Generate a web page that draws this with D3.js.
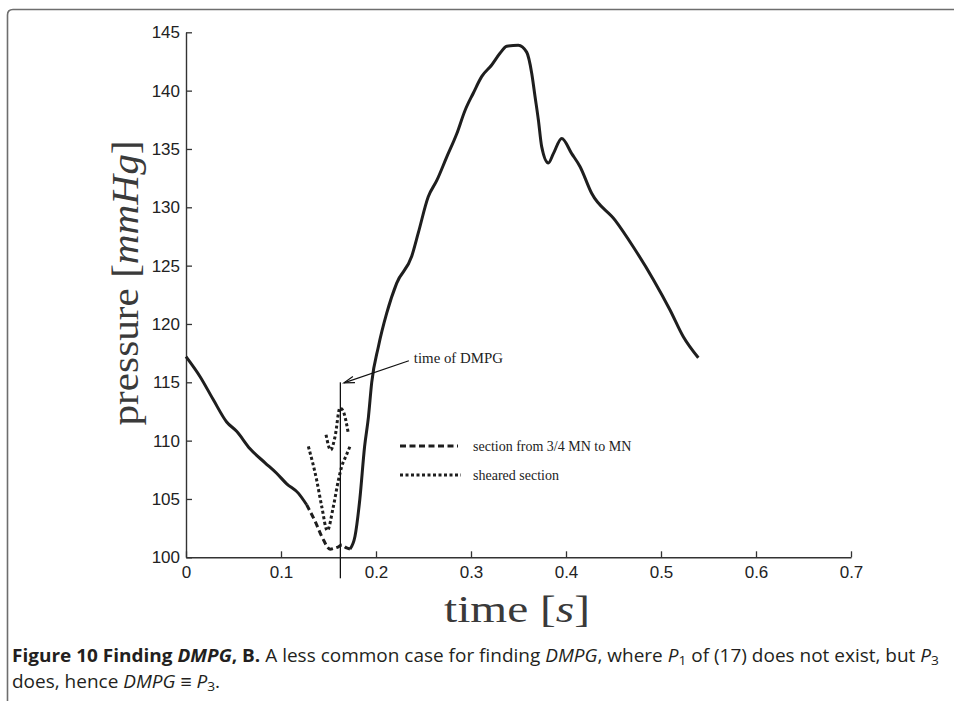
<!DOCTYPE html>
<html>
<head>
<meta charset="utf-8">
<script src="https://cdn.jsdelivr.net/npm/d3@7"></script>
<style>
  html, body { margin: 0; padding: 0; background: #fff; }
  svg { display: block; }
</style>
</head>
<body>
<svg id="chart" width="954" height="701"></svg>
<script>
// Axis ticks
const xTicks = [0, 0.1, 0.2, 0.3, 0.4, 0.5, 0.6, 0.7];
const xTickLabels = ["0", "0.1", "0.2", "0.3", "0.4", "0.5", "0.6", "0.7"];
const yTicks = [100, 105, 110, 115, 120, 125, 130, 135, 140, 145];
const yTickLabels = ["100", "105", "110", "115", "120", "125", "130", "135", "140", "145"];

// Pressure trace [time s, pressure mmHg], before the 3/4 MN point
const traceBefore = [
  [0.000, 117.2], [0.0147, 115.5], [0.0288, 113.5], [0.0428, 111.6],
  [0.0533, 110.8], [0.0674, 109.3], [0.0832, 108.1], [0.0954, 107.2],
  [0.106, 106.3], [0.1182, 105.5], [0.127, 104.5]
];
// Section from 3/4 MN to MN
const sectionTrace = [
  [0.127, 104.5], [0.1358, 103.1], [0.1446, 101.5], [0.1516, 100.7],
  [0.157, 100.8], [0.1604, 100.9], [0.164, 101.05], [0.1691, 100.8],
  [0.1726, 100.7]
];
// Pressure trace after MN
const traceAfter = [
  [0.1726, 100.7], [0.1779, 101.8], [0.183, 105.0], [0.188, 109.5],
  [0.192, 112.0], [0.1955, 115.0], [0.2025, 118.05], [0.2112, 120.9],
  [0.2218, 123.5], [0.2376, 125.8], [0.2445, 127.8], [0.255, 130.9],
  [0.264, 132.3], [0.2744, 134.3], [0.285, 136.3], [0.2937, 138.3],
  [0.3025, 139.8], [0.3112, 141.2], [0.3218, 142.2], [0.3305, 143.2],
  [0.3376, 143.8], [0.3498, 143.9], [0.3586, 143.3], [0.3639, 141.5],
  [0.3674, 139.5], [0.3709, 137.5], [0.3744, 135.2], [0.3814, 133.8],
  [0.3867, 134.6], [0.3955, 135.9], [0.406, 134.6], [0.4147, 133.5],
  [0.427, 131.2], [0.4516, 128.9], [0.4709, 126.6], [0.492, 123.8],
  [0.5095, 121.2], [0.5235, 118.9], [0.5393, 117.1]
];
// Sheared section, two pieces
const shearedA = [
  [0.1288, 109.5], [0.1376, 106.6], [0.143, 104.3], [0.1487, 102.3],
  [0.155, 104.3], [0.1604, 106.6], [0.164, 107.8], [0.169, 108.8],
  [0.1726, 109.5]
];
const shearedB = [
  [0.1474, 110.5], [0.1523, 109.2], [0.1568, 110.3], [0.1621, 112.8],
  [0.1656, 112.5], [0.1709, 110.6]
];

// DMPG marker
const dmpgTime = 0.1625;
const dmpgRange = [115, 98.2];
const arrowFrom = [0.2346, 116.85];
const arrowTo = [0.1663, 114.95];

const legendLabels = ["section from 3/4 MN to MN", "sheared section"];

const svg = d3.select("#chart");
svg.append("rect").attr("width", 954).attr("height", 701).attr("fill", "#fff");

// Figure frame
svg.append("path")
  .attr("d", "M7.5,701 V15 Q7.5,9.5 13,9.5 H954")
  .attr("fill", "none").attr("stroke", "#6e6e6e").attr("stroke-width", 1.6);

const x = d3.scaleLinear().domain([0, 0.7]).range([186, 851]);
const y = d3.scaleLinear().domain([100, 145]).range([557.3, 32.3]);

const tickFont = "'Liberation Sans', Arial, sans-serif";
const serif = "'Liberation Serif', 'Times New Roman', serif";

// Axes
const xAxis = svg.append("g")
  .attr("transform", `translate(0,${y(100)})`)
  .call(d3.axisBottom(x).tickValues(xTicks)
    .tickFormat((d, i) => xTickLabels[i])
    .tickSize(-6).tickSizeOuter(0).tickPadding(9));
const yAxis = svg.append("g")
  .attr("transform", `translate(${x(0)},0)`)
  .call(d3.axisLeft(y).tickValues(yTicks)
    .tickFormat((d, i) => yTickLabels[i])
    .tickSize(-6).tickSizeOuter(0).tickPadding(6));
[xAxis, yAxis].forEach(g => {
  g.select(".domain").attr("stroke", "#333").attr("stroke-width", 1.4);
  g.selectAll(".tick line").attr("stroke", "#333").attr("stroke-width", 1.3);
  g.selectAll(".tick text").attr("fill", "#222")
    .style("font-family", tickFont).style("font-size", "17px");
});

// Curves
const line = d3.line().x(d => x(d[0])).y(d => y(d[1])).curve(d3.curveMonotoneX);
const ink = "#1e1e1e";

function drawLine(data, dash) {
  const p = svg.append("path").datum(data)
    .attr("d", line)
    .attr("fill", "none").attr("stroke", ink).attr("stroke-width", 3)
    .attr("stroke-linejoin", "round");
  if (dash) p.attr("stroke-dasharray", dash);
  return p;
}
drawLine(traceBefore);
drawLine(traceAfter);
drawLine(sectionTrace, "6,3.5");
drawLine(shearedA, "3,2.5");
drawLine(shearedB, "3,2.5");

// DMPG marker line
svg.append("line")
  .attr("x1", x(dmpgTime)).attr("x2", x(dmpgTime))
  .attr("y1", y(dmpgRange[0])).attr("y2", y(dmpgRange[1]))
  .attr("stroke", "#111").attr("stroke-width", 1.3);

// Arrow to marker
const ax0 = x(arrowFrom[0]), ay0 = y(arrowFrom[1]);
const ax1 = x(arrowTo[0]), ay1 = y(arrowTo[1]);
svg.append("line")
  .attr("x1", ax0).attr("y1", ay0).attr("x2", ax1).attr("y2", ay1)
  .attr("stroke", "#111").attr("stroke-width", 1.2);
const ang = Math.atan2(ay0 - ay1, ax0 - ax1);
const headLen = 11, spread = 0.3;
svg.append("path")
  .attr("d", `M${ax1 + headLen * Math.cos(ang - spread)},${ay1 + headLen * Math.sin(ang - spread)}` +
             ` L${ax1},${ay1} L${ax1 + headLen * Math.cos(ang + spread)},${ay1 + headLen * Math.sin(ang + spread)}`)
  .attr("fill", "none").attr("stroke", "#111").attr("stroke-width", 1.2);
svg.append("text")
  .attr("x", ax0 + 5).attr("y", ay0 + 2)
  .attr("textLength", 89).attr("lengthAdjust", "spacingAndGlyphs")
  .style("font-family", serif).style("font-size", "14.5px").attr("fill", "#222")
  .text("time of DMPG");

// Legend
const legend = svg.append("g").attr("transform", "translate(400,446)");
const legendDash = ["6,3.5", "3,2.5"];
legendLabels.forEach((lab, i) => {
  const row = legend.append("g").attr("transform", `translate(0,${i * 29})`);
  row.append("line").attr("x1", 0).attr("x2", i === 0 ? 58 : 61)
    .attr("stroke", ink).attr("stroke-width", 3).attr("stroke-dasharray", legendDash[i]);
  row.append("text").attr("x", 73).attr("y", 5)
    .style("font-family", serif).style("font-size", "14px").attr("fill", "#222")
    .text(lab);
});

// Axis titles
const xt = svg.append("text")
  .attr("x", 517).attr("y", 622).attr("text-anchor", "middle")
  .attr("textLength", 146).attr("lengthAdjust", "spacingAndGlyphs")
  .style("font-family", serif).style("font-size", "38px").attr("fill", "#3a3a3a");
xt.append("tspan").text("time [");
xt.append("tspan").style("font-style", "italic").text("s");
xt.append("tspan").text("]");

const yt = svg.append("text")
  .attr("transform", "translate(138,283) rotate(-90)").attr("text-anchor", "middle")
  .attr("textLength", 285).attr("lengthAdjust", "spacingAndGlyphs")
  .style("font-family", serif).style("font-size", "37px").attr("fill", "#3a3a3a");
yt.append("tspan").text("pressure [");
yt.append("tspan").style("font-style", "italic").text("mmHg");
yt.append("tspan").text("]");

// Caption
const capFont = "'Open Sans', 'Noto Sans', sans-serif";
function captionLine(parts, yPos) {
  const t = svg.append("text").attr("x", 0).attr("y", 0)
    .style("font-family", capFont).style("font-size", "18px").attr("fill", "#231f20");
  parts.forEach(p => {
    const s = t.append("tspan").text(p.t);
    if (p.b) s.style("font-weight", "bold");
    if (p.i) s.style("font-style", "italic");
    if (p.sub) s.attr("baseline-shift", "-25%").style("font-size", "13px");
  });
  return { node: t, y: yPos };
}
const cap1 = captionLine([
  { t: "Figure 10 Finding ", b: 1 }, { t: "DMPG", b: 1, i: 1 }, { t: ", B.", b: 1 },
  { t: " A less common case for finding " }, { t: "DMPG", i: 1 }, { t: ", where " },
  { t: "P", i: 1 }, { t: "1", sub: 1 }, { t: " of (17) does not exist, but " },
  { t: "P", i: 1 }, { t: "3", sub: 1 }
], 662);
const cap2 = captionLine([
  { t: "does, hence " }, { t: "DMPG", i: 1 }, { t: " \u2261 " },
  { t: "P", i: 1 }, { t: "3", sub: 1 }, { t: "." }
], 688);
const w1 = cap1.node.node().getBBox().width;
const sx = 927 / w1;
[cap1, cap2].forEach(c => c.node.attr("transform", `translate(12,${c.y}) scale(${sx},1)`));
</script>
</body>
</html>
